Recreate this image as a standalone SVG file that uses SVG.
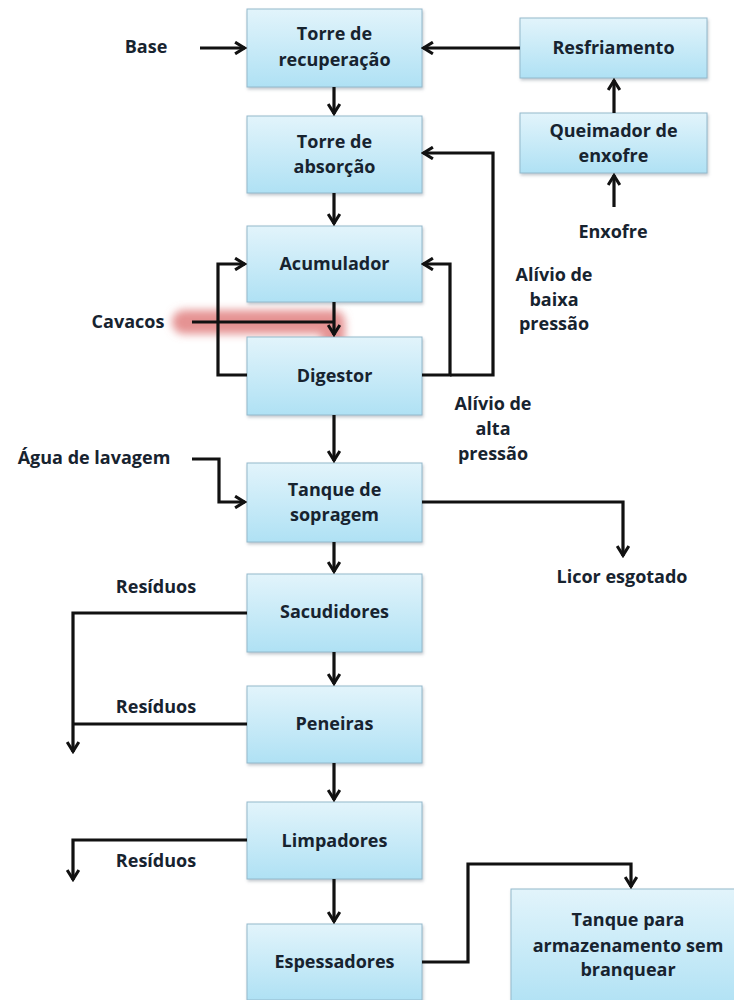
<svg xmlns="http://www.w3.org/2000/svg" width="734" height="1000" viewBox="0 0 734 1000">
<defs>
<linearGradient id="boxg" x1="0" y1="0" x2="0" y2="1">
<stop offset="0" stop-color="#e2f4fb"/>
<stop offset="1" stop-color="#afe1f4"/>
</linearGradient>
<filter id="sh" x="-10%" y="-10%" width="125%" height="130%">
<feDropShadow dx="1" dy="2" stdDeviation="1.5" flood-color="#7a8a95" flood-opacity="0.45"/>
</filter>
<filter id="glow" x="-30%" y="-200%" width="160%" height="500%">
<feGaussianBlur stdDeviation="4.5"/>
</filter>
<marker id="ah" viewBox="0 0 12 12" refX="10.5" refY="6" markerWidth="14" markerHeight="14" markerUnits="userSpaceOnUse" orient="auto">
<path d="M2,1 L10,6 L2,11" fill="none" stroke="#111" stroke-width="2.6" stroke-linejoin="miter"/>
</marker>
</defs>
<style>
.box{fill:url(#boxg);stroke:#93b9cc;stroke-width:1;filter:url(#sh)}
.t{font-family:"Open Sans","Liberation Sans",sans-serif;font-weight:700;font-size:18px;fill:#17232f;text-anchor:middle}
.c{fill:none;stroke:#111;stroke-width:3.2;stroke-linejoin:miter}
</style>
<rect width="734" height="1000" fill="#ffffff"/>

<g id="glow-highlight">
<path d="M184,322 H333 V336" fill="none" stroke="#de7878" stroke-width="24" stroke-linecap="round" stroke-linejoin="round" stroke-opacity="0.8" filter="url(#glow)"/>
</g>

<g id="torre-recuperacao"><rect class="box" x="247" y="9" width="175" height="78"/><text class="t" x="334.5" y="40">Torre de</text><text class="t" x="334.5" y="66">recuperação</text></g>
<g id="resfriamento"><rect class="box" x="520" y="18" width="187" height="60"/><text class="t" x="613.5" y="54">Resfriamento</text></g>
<g id="torre-absorcao"><rect class="box" x="247" y="116" width="175" height="77"/><text class="t" x="334.5" y="148">Torre de</text><text class="t" x="334.5" y="173">absorção</text></g>
<g id="queimador"><rect class="box" x="520" y="113" width="187" height="60"/><text class="t" x="613.5" y="137">Queimador de</text><text class="t" x="613.5" y="162">enxofre</text></g>
<g id="acumulador"><rect class="box" x="247" y="226" width="175" height="76"/><text class="t" x="334.5" y="270">Acumulador</text></g>
<g id="digestor"><rect class="box" x="247" y="337" width="175" height="78"/><text class="t" x="334.5" y="382">Digestor</text></g>
<g id="tanque-sopragem"><rect class="box" x="247" y="463" width="175" height="79"/><text class="t" x="334.5" y="496">Tanque de</text><text class="t" x="334.5" y="521">sopragem</text></g>
<g id="sacudidores"><rect class="box" x="247" y="574" width="175" height="78"/><text class="t" x="334.5" y="618">Sacudidores</text></g>
<g id="peneiras"><rect class="box" x="247" y="686" width="175" height="77"/><text class="t" x="334.5" y="730">Peneiras</text></g>
<g id="limpadores"><rect class="box" x="247" y="802" width="175" height="77"/><text class="t" x="334.5" y="847">Limpadores</text></g>
<g id="espessadores"><rect class="box" x="247" y="924" width="175" height="76"/><text class="t" x="334.5" y="968">Espessadores</text></g>
<g id="tanque-armazenamento"><rect class="box" x="511" y="889" width="235" height="120"/><text class="t" x="628" y="926">Tanque para</text><text class="t" x="628" y="952">armazenamento sem</text><text class="t" x="628" y="976">branquear</text></g>

<g id="labels">
<text class="t" x="146" y="53">Base</text>
<text class="t" x="613" y="238">Enxofre</text>
<text class="t" x="554" y="281">Alívio de</text>
<text class="t" x="554" y="306">baixa</text>
<text class="t" x="554" y="330">pressão</text>
<text class="t" x="128" y="328">Cavacos</text>
<text class="t" x="493" y="410">Alívio de</text>
<text class="t" x="493" y="435">alta</text>
<text class="t" x="493" y="460">pressão</text>
<text class="t" x="94" y="464">Água de lavagem</text>
<text class="t" x="622" y="583">Licor esgotado</text>
<text class="t" x="156" y="593">Resíduos</text>
<text class="t" x="156" y="713">Resíduos</text>
<text class="t" x="156" y="867">Resíduos</text>
</g>

<g id="connectors">
<path class="c" d="M200,48 H245" marker-end="url(#ah)"/>
<path class="c" d="M520,48 H423" marker-end="url(#ah)"/>
<path class="c" d="M614,113 V80" marker-end="url(#ah)"/>
<path class="c" d="M614,207 V175" marker-end="url(#ah)"/>
<path class="c" d="M334,87 V114" marker-end="url(#ah)"/>
<path class="c" d="M334,193 V224" marker-end="url(#ah)"/>
<path class="c" d="M334,302 V335" marker-end="url(#ah)"/>
<path class="c" d="M192,322 H333"/>
<path class="c" d="M247,375 H218 V264 H245" marker-end="url(#ah)"/>
<path class="c" d="M422,375 H450 V264 H423" marker-end="url(#ah)"/>
<path class="c" d="M450,375 H493 V153 H423" marker-end="url(#ah)"/>
<path class="c" d="M334,415 V461" marker-end="url(#ah)"/>
<path class="c" d="M192,459 H219 V502 H245" marker-end="url(#ah)"/>
<path class="c" d="M422,502 H623 V556" marker-end="url(#ah)"/>
<path class="c" d="M334,542 V572" marker-end="url(#ah)"/>
<path class="c" d="M247,613 H73 V752" marker-end="url(#ah)"/>
<path class="c" d="M247,724 H73"/>
<path class="c" d="M334,652 V684" marker-end="url(#ah)"/>
<path class="c" d="M334,763 V800" marker-end="url(#ah)"/>
<path class="c" d="M247,840 H73 V880" marker-end="url(#ah)"/>
<path class="c" d="M334,879 V922" marker-end="url(#ah)"/>
<path class="c" d="M422,962 H468 V864 H631 V887" marker-end="url(#ah)"/>
</g>
</svg>
